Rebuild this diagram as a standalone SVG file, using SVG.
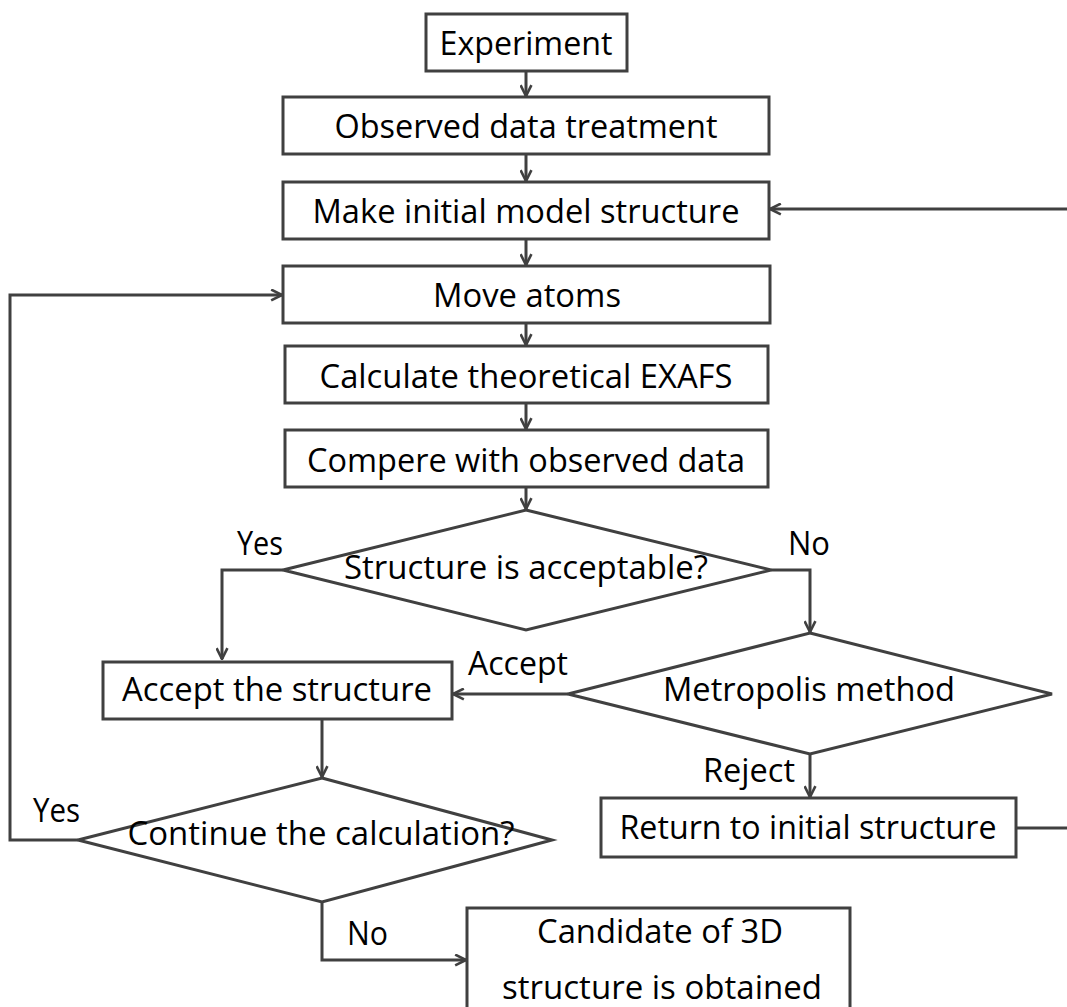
<svg xmlns="http://www.w3.org/2000/svg" width="1067" height="1007" viewBox="0 0 1067 1007">
<style>
.box{fill:#fff;stroke:#404040;stroke-width:3}
.ln{fill:none;stroke:#404040;stroke-width:3}
.arr{fill:none;stroke:#404040;stroke-width:3;marker-end:url(#ah)}
text{font-family:"Open Sans","Liberation Sans",sans-serif;font-size:32px;fill:#000}
.c{text-anchor:middle}
</style>
<defs>
<marker id="ah" viewBox="0 0 12 12" refX="11" refY="6" markerWidth="13" markerHeight="13" markerUnits="userSpaceOnUse" orient="auto">
<path d="M1,1 L11,6 L1,11" fill="none" stroke="#404040" stroke-width="2.4"/>
</marker>
</defs>
<g id="connectors">
<line class="arr" x1="526" y1="71" x2="526" y2="96"/>
<line class="arr" x1="526" y1="154" x2="526" y2="181"/>
<line class="arr" x1="526" y1="239" x2="526" y2="265"/>
<line class="arr" x1="526" y1="323" x2="526" y2="345"/>
<line class="arr" x1="526" y1="403" x2="526" y2="429"/>
<line class="arr" x1="526" y1="487" x2="526" y2="509"/>
<polyline class="arr" points="283,570 222,570 222,659"/>
<polyline class="arr" points="771,570 810,570 810,632"/>
<line class="arr" x1="568" y1="694" x2="453" y2="694"/>
<line class="arr" x1="810" y1="754" x2="810" y2="797"/>
<line class="ln" x1="1016" y1="828" x2="1067" y2="828"/>
<line class="arr" x1="1067" y1="209" x2="770" y2="209"/>
<line class="arr" x1="322" y1="720" x2="322" y2="777"/>
<polyline class="arr" points="78,840 10,840 10,295 282,295"/>
<polyline class="arr" points="322,902 322,960 466,960"/>
</g>
<g id="experiment"><rect class="box" x="426" y="14" width="201" height="57"/><text class="c" x="526" y="55" textLength="173" lengthAdjust="spacingAndGlyphs">Experiment</text></g>
<g id="observed"><rect class="box" x="283" y="97" width="486" height="57"/><text class="c" x="526" y="138" textLength="383" lengthAdjust="spacingAndGlyphs">Observed data treatment</text></g>
<g id="make-initial"><rect class="box" x="283" y="182" width="486" height="57"/><text class="c" x="526" y="223" textLength="427" lengthAdjust="spacingAndGlyphs">Make initial model structure</text></g>
<g id="move-atoms"><rect class="box" x="283" y="266" width="487" height="57"/><text class="c" x="527" y="307" textLength="188" lengthAdjust="spacingAndGlyphs">Move atoms</text></g>
<g id="calculate"><rect class="box" x="285" y="346" width="483" height="57"/><text class="c" x="526" y="388" textLength="413" lengthAdjust="spacingAndGlyphs">Calculate theoretical EXAFS</text></g>
<g id="compare"><rect class="box" x="285" y="430" width="483" height="57"/><text class="c" x="526" y="472" textLength="438" lengthAdjust="spacingAndGlyphs">Compere with observed data</text></g>
<g id="acceptable"><polygon class="box" points="526,510 771,570 526,630 283,570"/><text class="c" x="526" y="579" textLength="364" lengthAdjust="spacingAndGlyphs">Structure is acceptable?</text>
<text x="237" y="555" textLength="46" lengthAdjust="spacingAndGlyphs">Yes</text><text x="788" y="555" textLength="42" lengthAdjust="spacingAndGlyphs">No</text></g>
<g id="accept-structure"><rect class="box" x="103" y="662" width="349" height="57"/><text class="c" x="277" y="701" textLength="310" lengthAdjust="spacingAndGlyphs">Accept the structure</text></g>
<g id="metropolis"><polygon class="box" points="810,633 1052,694 810,754 568,694"/><text class="c" x="809" y="701" textLength="292" lengthAdjust="spacingAndGlyphs">Metropolis method</text>
<text x="468" y="675" textLength="100" lengthAdjust="spacingAndGlyphs">Accept</text><text x="703" y="782" textLength="92" lengthAdjust="spacingAndGlyphs">Reject</text></g>
<g id="return"><rect class="box" x="601" y="798" width="415" height="59"/><text class="c" x="808" y="839" textLength="377" lengthAdjust="spacingAndGlyphs">Return to initial structure</text></g>
<g id="continue"><polygon class="box" points="322,778 552,840 322,902 78,840"/><text class="c" x="321" y="845" textLength="387" lengthAdjust="spacingAndGlyphs">Continue the calculation?</text>
<text x="33" y="822" textLength="47" lengthAdjust="spacingAndGlyphs">Yes</text><text x="347" y="945" textLength="41" lengthAdjust="spacingAndGlyphs">No</text></g>
<g id="candidate"><rect class="box" x="467" y="908" width="383" height="110"/><text class="c" x="660" y="943" textLength="246" lengthAdjust="spacingAndGlyphs">Candidate of 3D</text><text class="c" x="662" y="999" textLength="320" lengthAdjust="spacingAndGlyphs">structure is obtained</text></g>
</svg>
